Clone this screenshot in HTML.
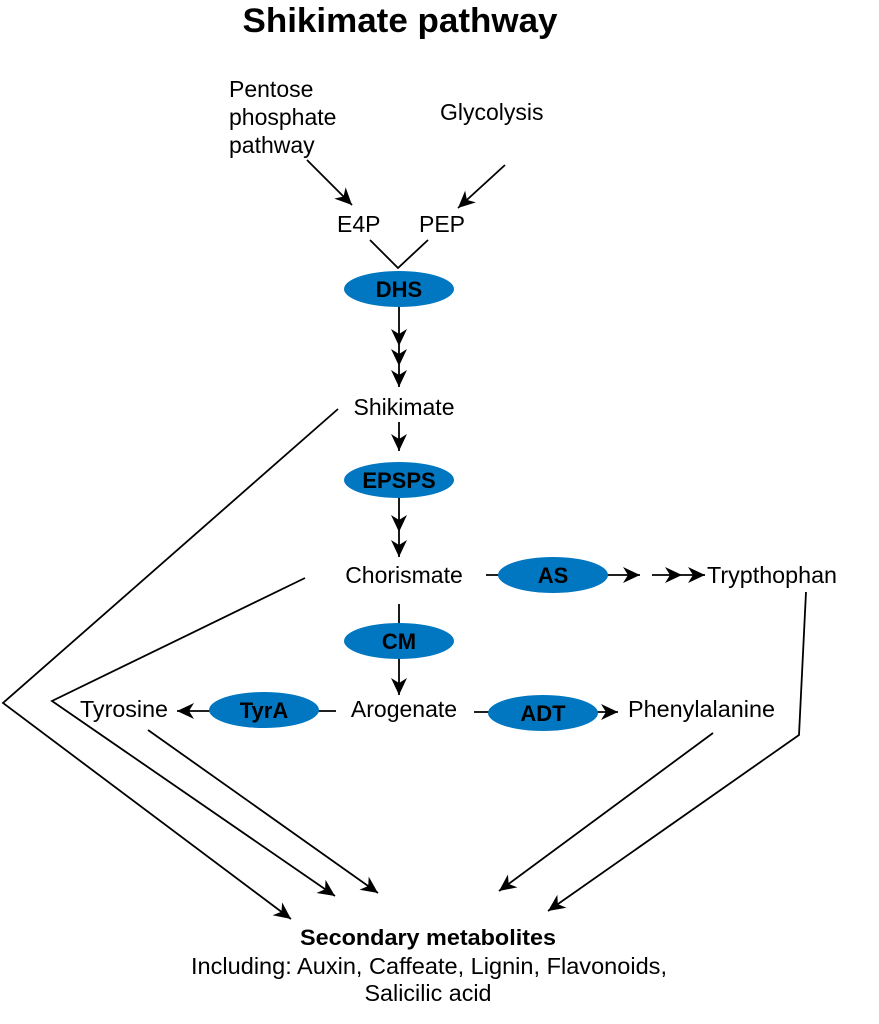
<!DOCTYPE html>
<html><head><meta charset="utf-8"><style>
html,body{margin:0;padding:0;background:#fff;}
svg{display:block;font-family:"Liberation Sans",Arial,sans-serif;}
</style></head><body>
<svg width="879" height="1024" viewBox="0 0 879 1024" xmlns="http://www.w3.org/2000/svg">
<defs>
<marker id="a" markerWidth="20" markerHeight="18" refX="17" refY="8" orient="auto" markerUnits="userSpaceOnUse">
<path d="M0,0 L17,8 L0,16 L5,8 Z" fill="#000"/>
</marker>
</defs>
<g fill="#000">
<text x="400" y="32" font-size="34" font-weight="bold" text-anchor="middle" textLength="315" lengthAdjust="spacingAndGlyphs">Shikimate pathway</text>
<text x="229" y="97" font-size="23">Pentose</text>
<text x="229" y="125" font-size="23">phosphate</text>
<text x="229" y="153" font-size="23">pathway</text>
<text x="440" y="120" font-size="23">Glycolysis</text>
<text x="337" y="232" font-size="23">E4P</text>
<text x="419" y="232" font-size="23">PEP</text>
<text x="404" y="415" font-size="23" text-anchor="middle">Shikimate</text>
<text x="404" y="583" font-size="23" text-anchor="middle">Chorismate</text>
<text x="707" y="583" font-size="23" textLength="130" lengthAdjust="spacingAndGlyphs">Trypthophan</text>
<text x="404" y="717" font-size="23" text-anchor="middle">Arogenate</text>
<text x="80" y="717" font-size="23" textLength="88" lengthAdjust="spacingAndGlyphs">Tyrosine</text>
<text x="628" y="717" font-size="23" textLength="147" lengthAdjust="spacingAndGlyphs">Phenylalanine</text>
<text x="428" y="945" font-size="22" font-weight="bold" text-anchor="middle" textLength="256" lengthAdjust="spacingAndGlyphs">Secondary metabolites</text>
<text x="429" y="974" font-size="23" text-anchor="middle" textLength="476" lengthAdjust="spacingAndGlyphs">Including: Auxin, Caffeate, Lignin, Flavonoids,</text>
<text x="428" y="1001" font-size="23" text-anchor="middle" textLength="127" lengthAdjust="spacingAndGlyphs">Salicilic acid</text>
</g>
<g stroke="#000" stroke-width="1.8" fill="none">
<line x1="307" y1="160" x2="352" y2="205" marker-end="url(#a)"/>
<line x1="505" y1="165" x2="458" y2="208" marker-end="url(#a)"/>
<polyline points="370,240 398,268 428,240"/>
<line x1="399" y1="306" x2="399" y2="346" marker-end="url(#a)"/>
<line x1="399" y1="346" x2="399" y2="366" marker-end="url(#a)"/>
<line x1="399" y1="366" x2="399" y2="387" marker-end="url(#a)"/>
<line x1="399" y1="422" x2="399" y2="451" marker-end="url(#a)"/>
<line x1="399" y1="498" x2="399" y2="532" marker-end="url(#a)"/>
<line x1="399" y1="532" x2="399" y2="557" marker-end="url(#a)"/>
<line x1="486" y1="575" x2="640" y2="575" marker-end="url(#a)"/>
<line x1="652" y1="575" x2="682" y2="575" marker-end="url(#a)"/>
<line x1="682" y1="575" x2="705" y2="575" marker-end="url(#a)"/>
<line x1="399" y1="604" x2="399" y2="695" marker-end="url(#a)"/>
<line x1="336" y1="711" x2="177" y2="711" marker-end="url(#a)"/>
<line x1="474" y1="712" x2="618" y2="712" marker-end="url(#a)"/>
<polyline points="338,409 3,703 291,919" marker-end="url(#a)"/>
<polyline points="305,578 52,701 335,896" marker-end="url(#a)"/>
<line x1="148" y1="730" x2="378" y2="893" marker-end="url(#a)"/>
<line x1="713" y1="733" x2="499" y2="891" marker-end="url(#a)"/>
<polyline points="806,592 799,735 548,911" marker-end="url(#a)"/>
</g>
<g fill="#0077c0">
<ellipse cx="399" cy="289" rx="55" ry="18"/>
<ellipse cx="399" cy="480" rx="55" ry="18"/>
<ellipse cx="553" cy="575" rx="55" ry="18"/>
<ellipse cx="399" cy="641" rx="55" ry="18"/>
<ellipse cx="264" cy="710" rx="55" ry="18"/>
<ellipse cx="543" cy="713" rx="55" ry="18"/>
</g>
<g fill="#000" font-size="22" font-weight="bold" text-anchor="middle">
<text x="399" y="297">DHS</text>
<text x="399" y="488">EPSPS</text>
<text x="553" y="583">AS</text>
<text x="399" y="649">CM</text>
<text x="264" y="718">TyrA</text>
<text x="543" y="721">ADT</text>
</g>
</svg>
</body></html>
